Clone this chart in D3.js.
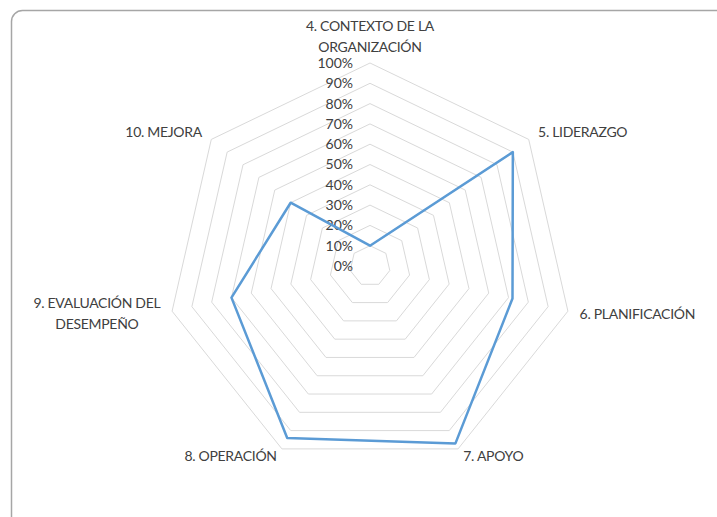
<!DOCTYPE html>
<html>
<head>
<meta charset="utf-8">
<script src="https://cdn.jsdelivr.net/npm/d3@7"></script>
<style>
  body { margin: 0; background: #fff; }
  svg text { font-family: Lato, "Open Sans", sans-serif; fill: #404040; }
</style>
</head>
<body>
<svg width="717" height="517"></svg>
<script>
// categorias del radar (cada una en lineas)
var categories = [
  ["4. CONTEXTO DE LA", "ORGANIZACIÓN"],
  ["5. LIDERAZGO"],
  ["6. PLANIFICACIÓN"],
  ["7. APOYO"],
  ["8. OPERACIÓN"],
  ["9. EVALUACIÓN DEL", "DESEMPEÑO"],
  ["10. MEJORA"]
];
var values = [0.10, 0.90, 0.72, 0.97, 0.94, 0.70, 0.50];
var ticks = [0, 0.1, 0.2, 0.3, 0.4, 0.5, 0.6, 0.7, 0.8, 0.9, 1];

(function () {
  var svg = d3.select("svg"),
    cx = 370, cy = 266,
    radius = 203;

  // marco del grafico
  svg.append("rect")
    .attr("x", 11.5).attr("y", 10.5)
    .attr("width", 740).attr("height", 540)
    .attr("rx", 11).attr("ry", 11)
    .attr("fill", "none")
    .attr("stroke", "#a6a6a6")
    .attr("stroke-width", 1.5);

  var r = d3.scaleLinear().domain([0, 1]).range([0, radius]);
  var angle = d3.scaleLinear().domain([0, categories.length]).range([0, 2 * Math.PI]);

  var g = svg.append("g").attr("transform", "translate(" + cx + "," + cy + ")");

  var ring = d3.lineRadial()
    .angle(function (d, i) { return angle(i); })
    .curve(d3.curveLinearClosed);

  // anillos
  g.selectAll("path.ring")
    .data(ticks.slice(1))
    .enter().append("path")
    .attr("class", "ring")
    .attr("d", function (t) {
      return ring.radius(function () { return r(t); })(categories);
    })
    .attr("fill", "none")
    .attr("stroke", "#d9d9d9")
    .attr("stroke-width", 1);

  // etiquetas de escala
  g.selectAll("text.tick")
    .data(ticks)
    .enter().append("text")
    .attr("class", "tick")
    .attr("x", -17)
    .attr("y", function (d) { return -r(d); })
    .attr("dy", "0.35em")
    .attr("text-anchor", "end")
    .style("font-size", "14px")
    .text(d3.format(".0%"));

  // serie
  g.append("path")
    .datum(values)
    .attr("d", d3.lineRadial()
      .angle(function (d, i) { return angle(i); })
      .radius(function (d) { return r(d); })
      .curve(d3.curveLinearClosed))
    .attr("fill", "none")
    .attr("stroke", "#5b9bd5")
    .attr("stroke-width", 2.5)
    .attr("stroke-linejoin", "round");

  // etiquetas de categorias
  var labelR = radius + 12;
  categories.forEach(function (lines, i) {
    var a = angle(i),
      x = Math.sin(a) * labelR,
      y = -Math.cos(a) * labelR,
      s = Math.sin(a),
      anchor = Math.abs(s) < 0.3 ? "middle" : (s > 0 ? "start" : "end");
    var t = g.append("text")
      .attr("text-anchor", "middle")
      .style("font-size", "14px")
      .style("letter-spacing", "-0.3px");
    var y0;
    if (i === 0) y0 = y - 4 - (lines.length - 1) * 21;
    else if (Math.abs(s) < 0.5) y0 = y - 4;
    else y0 = y - (lines.length - 1) * 10.5;
    var spans = lines.map(function (ln, j) {
      return t.append("tspan")
        .attr("y", y0 + j * 21)
        .attr("dy", "0.35em")
        .text(ln);
    });
    // bloque alineado segun el lado, lineas centradas entre si
    var w = d3.max(spans, function (sp) { return sp.node().getComputedTextLength(); });
    var mx = anchor === "middle" ? x : (anchor === "start" ? x + w / 2 : x - w / 2);
    spans.forEach(function (sp) { sp.attr("x", mx); });
  });
})();
</script>
</body>
</html>
